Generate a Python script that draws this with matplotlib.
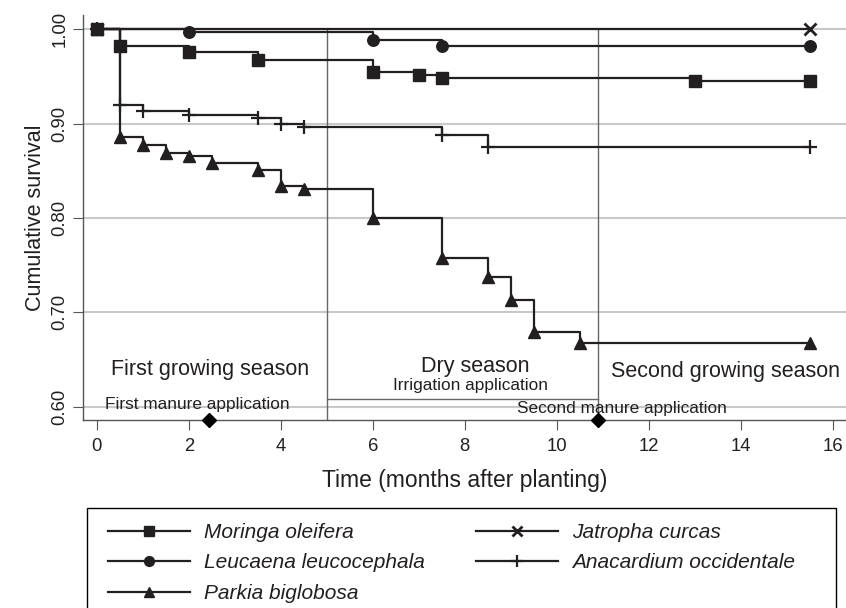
import matplotlib
matplotlib.use("Agg")
import matplotlib.pyplot as plt
from matplotlib.patches import Rectangle

plt.rcParams['font.family'] = ['Liberation Sans', 'DejaVu Sans']

# survival steps (months, cumulative survival)
moringa_t = [0, 0.5, 2, 3.5, 6, 7, 7.5, 13, 15.5]
moringa_s = [1.0, 0.982, 0.976, 0.968, 0.955, 0.952, 0.948, 0.945, 0.945]
leucaena_t = [0, 2, 6, 7.5, 15.5]
leucaena_s = [1.0, 0.997, 0.989, 0.982, 0.982]
parkia_t = [0, 0.5, 1, 1.5, 2, 2.5, 3.5, 4, 4.5, 6, 7.5, 8.5, 9, 9.5, 10.5, 15.5]
parkia_s = [1.0, 0.886, 0.877, 0.869, 0.866, 0.858, 0.851, 0.834, 0.831,
            0.800, 0.758, 0.737, 0.713, 0.679, 0.668, 0.668]
jatropha_t = [0, 15.5]
jatropha_s = [1.0, 1.0]
anacardium_t = [0, 0.5, 1, 2, 3.5, 4, 4.5, 7.5, 8.5, 15.5]
anacardium_s = [1.0, 0.920, 0.913, 0.909, 0.906, 0.900, 0.896, 0.888, 0.875, 0.875]

season_ends = [5, 10.9]
manure_t = [2.45, 10.9]
irrigation = (5, 10.9, 0.608)

y_ticks = [0.6, 0.7, 0.8, 0.9, 1.0]
x_ticks = [0, 2, 4, 6, 8, 10, 12, 14, 16]

ink = '#231f20'

fig = plt.figure(figsize=(8.46, 6.08), dpi=100)
ax = fig.add_axes([0.0978, 0.3087, 0.9022, 0.6666])
ymin, ymax = 0.5856, 1.0152
ax.set_xlim(-0.304, 16.29)
ax.set_ylim(ymin, ymax)

# horizontal grid
for v in y_ticks:
    ax.axhline(v, color='#c8c8c8', lw=1.5, zorder=0)

# season boundaries and irrigation period
for x in season_ends:
    ax.plot([x, x], [ymin, 1.0], color='#666666', lw=1.0, zorder=1)
ax.plot([irrigation[0], irrigation[1]], [irrigation[2], irrigation[2]],
        color='#666666', lw=1.0, zorder=1)

kw = dict(color=ink, lw=1.6, drawstyle='steps-post', zorder=3)
ax.plot(moringa_t, moringa_s, marker='s', ms=8, label='Moringa oleifera', **kw)
ax.plot(leucaena_t, leucaena_s, marker='o', ms=8.3, label='Leucaena leucocephala', **kw)
ax.plot(parkia_t, parkia_s, marker='^', ms=9, label='Parkia biglobosa', **kw)
ax.plot(jatropha_t, jatropha_s, marker='x', ms=8, mew=2, label='Jatropha curcas', **kw)
ax.plot(anacardium_t, anacardium_s, marker='+', ms=10, mew=1.6, label='Anacardium occidentale', **kw)

# manure application dates
ax.plot(manure_t, [ymin] * len(manure_t), 'D', color='black', ms=7, clip_on=False, zorder=5)

ax.text(2.46, 0.634, 'First growing season', ha='center', va='baseline', fontsize=15.5, color=ink)
ax.text(2.19, 0.598, 'First manure application', ha='center', va='baseline', fontsize=12.4, color=ink)
ax.text(8.23, 0.637, 'Dry season', ha='center', va='baseline', fontsize=15.5, color=ink)
ax.text(8.12, 0.6177, 'Irrigation application', ha='center', va='baseline', fontsize=12.4, color=ink)
ax.text(13.68, 0.632, 'Second growing season', ha='center', va='baseline', fontsize=15.5, color=ink)
ax.text(11.42, 0.593, 'Second manure application', ha='center', va='baseline', fontsize=12.4, color=ink)

ax.set_yticks(y_ticks)
ax.set_yticklabels(['%.2f' % v for v in y_ticks], rotation=90, va='center')
ax.set_xticks(x_ticks)
ax.tick_params(axis='both', labelsize=13.3, length=7, color='#555555', labelcolor=ink)
ax.tick_params(axis='x', pad=6)
for s in ['top', 'right']:
    ax.spines[s].set_visible(False)
for s in ['left', 'bottom']:
    ax.spines[s].set_color('#555555')
    ax.spines[s].set_linewidth(1.0)

ax.set_xlabel('Time (months after planting)', fontsize=16.5, color=ink, labelpad=10)
ax.set_ylabel('Cumulative survival', fontsize=15.5, color=ink, labelpad=4)

# legend without its own frame, box drawn separately (runs off the bottom edge)
leg = fig.legend(loc='upper left', bbox_to_anchor=(108.3 / 846, 1 - 523 / 608),
                 ncol=2, frameon=False, handlelength=3.9, handletextpad=0.67,
                 columnspacing=2.5, labelspacing=0.55, borderpad=0, borderaxespad=0,
                 markerscale=0.85, prop={'style': 'italic', 'size': 15})
for t in leg.get_texts():
    t.set_color(ink)
fig.add_artist(Rectangle((87.3 / 846, -0.02), (835.5 - 87.3) / 846, 0.02 + 1 - 508 / 608,
                         transform=fig.transFigure, fill=False, edgecolor='black', lw=1.0))

fig.savefig('out.png', dpi=100)
